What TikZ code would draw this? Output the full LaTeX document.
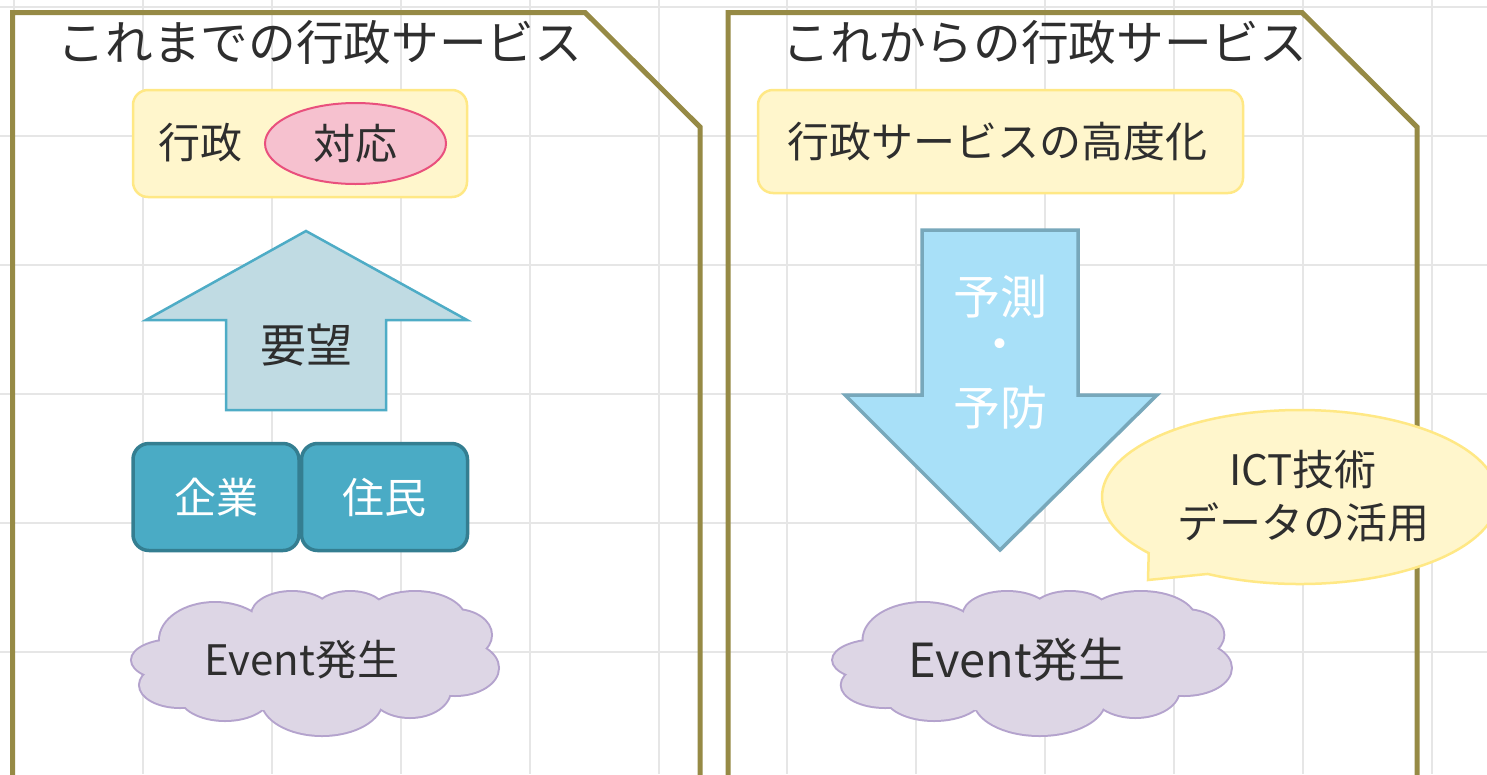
\documentclass[tikz,border=0pt]{standalone}
\usepackage{fontspec}
\setmainfont{Noto Sans CJK JP}
\usetikzlibrary{shapes.callouts,shapes.geometric}
\definecolor{gridc}{HTML}{E6E6E6}
\definecolor{framec}{HTML}{968A45}
\definecolor{txt}{HTML}{2E2E2E}
\definecolor{yelf}{HTML}{FFF6CC}
\definecolor{yelb}{HTML}{FFE885}
\definecolor{pinkf}{HTML}{F6C1CF}
\definecolor{pinkb}{HTML}{E9507D}
\definecolor{upf}{HTML}{C0DBE3}
\definecolor{upb}{HTML}{4EACC6}
\definecolor{tealf}{HTML}{4AABC5}
\definecolor{tealb}{HTML}{347E91}
\definecolor{cloudf}{HTML}{DDD6E5}
\definecolor{cloudb}{HTML}{B4A3CD}
\definecolor{downf}{HTML}{A8E0F8}
\definecolor{downb}{HTML}{78A8BB}
\tikzset{
  gridline/.style={draw=gridc, line width=2},
  framebox/.style={draw=framec, line width=5, line join=miter},
  yellowbox/.style={draw=yelb, fill=yelf, line width=2.5, rounded corners=15, inner sep=0},
  tealbox/.style={draw=tealb, fill=tealf, line width=3.5, rounded corners=16, minimum width=166, minimum height=107, inner sep=0},
  label/.style={text=txt, inner sep=0, font=\fontsize{42}{50}\selectfont},
  wlabel/.style={text=white, inner sep=0, font=\fontsize{42}{50}\selectfont},
  titlelabel/.style={text=txt, inner sep=0, font=\fontsize{47.7}{56}\selectfont}
}
\newcommand{\puffs}{-140/-3/43/20, -100/-23/55/37, -23/-48/40/23, 35/-51/35/20, 100/-43/50/28, 140/-28/36/25, 140/5/43/27, 95/27/40/27, 7/37/60/35, -90/32/45/25, -135/22/40/22}
\newcommand{\drawcloud}{%
  \foreach \a/\b/\c/\d in \puffs {\draw[cloudb, line width=4] (\a,\b) ellipse [x radius=\c, y radius=\d];}
  \foreach \a/\b/\c/\d in \puffs {\fill[cloudf] (\a,\b) ellipse [x radius=\c, y radius=\d];}
  \fill[cloudf] (0,0) ellipse [x radius=150, y radius=50];
}
\begin{document}
\begin{tikzpicture}[x=1pt,y=-1pt]
\useasboundingbox (0,0) rectangle (1487,774);
\fill[white] (0,0) rectangle (1487,774);
% grid
\foreach \i in {0,...,11} \draw[gridline] ({14+128.9*\i},0) -- ({14+128.9*\i},774);
\foreach \j in {0,...,6} \draw[gridline] (0,{7+129*\j}) -- (1487,{7+129*\j});
% frames
\draw[framebox] (12.5,780) -- (12.5,12.5) -- (585,12.5) -- (700,127) -- (700,780);
\draw[framebox] (728,780) -- (728,12.5) -- (1302,12.5) -- (1417,127) -- (1417,780);
% titles
\node[titlelabel] (t1) at (320,42) {これまでの行政サービス};
\node[titlelabel] (t2) at (1045,42) {これからの行政サービス};
% left top box
\node[yellowbox, minimum width=334, minimum height=107] (lbox) at (300,143.5) {};
\node[label] (gyosei) at (200,143) {行政};
\node[ellipse, draw=pinkb, fill=pinkf, line width=2, minimum width=181, minimum height=81, inner sep=0] (taio) at (355.5,143.5) {};
\node[label] at (taio.center) {対応};
% up arrow
\draw[draw=upb, fill=upf, line width=2.5] (306,231) -- (467,320) -- (386,320) -- (386,410) -- (226,410) -- (226,320) -- (146,320) -- cycle;
\node[label, font=\fontsize{46}{54}\selectfont] (yobo) at (306,345) {要望};
% teal boxes
\node[tealbox] (kigyo) at (216,497) {};
\node[wlabel] at (kigyo.center) {企業};
\node[tealbox] (jumin) at (384.5,497) {};
\node[wlabel] at (jumin.center) {住民};
% left cloud
\begin{scope}[shift={(315,663)}]
\drawcloud
\end{scope}
\node[label] (ev1) at (302,660) {Event発生};
% right top box
\node[yellowbox, minimum width=485, minimum height=103] (rbox) at (1000.5,141.5) {};
\node[label] (kodoka) at (997,142) {行政サービスの高度化};
% down arrow
\draw[draw=downb, fill=downf, line width=3.5] (922,230) -- (1078,230) -- (1078,395) -- (1157,395) -- (1000,550) -- (845,395) -- (922,395) -- cycle;
\node[wlabel, font=\fontsize{47}{56}\selectfont] (yosoku) at (1000,297) {予測};
\node[wlabel, font=\fontsize{47}{56}\selectfont] (dot) at (1000,350) {・};
\node[wlabel, font=\fontsize{47}{56}\selectfont] (yobou) at (1000,408) {予防};
% speech bubble
\node[ellipse callout, draw=yelb, fill=yelf, line width=2.5, minimum width=396, minimum height=174, inner sep=0, callout absolute pointer={(1148,580)}, callout pointer arc=22] (bubble) at (1300,497) {};
\node[label] (ict) at (1303,470) {ICT技術};
\node[label] (data) at (1303,522) {データの活用};
% right cloud
\begin{scope}[shift={(1032,663)}, xscale=1.087]
\drawcloud
\end{scope}
\node[label, font=\fontsize{47}{56}\selectfont] (ev2) at (1017,660) {Event発生};
\end{tikzpicture}
\end{document}
